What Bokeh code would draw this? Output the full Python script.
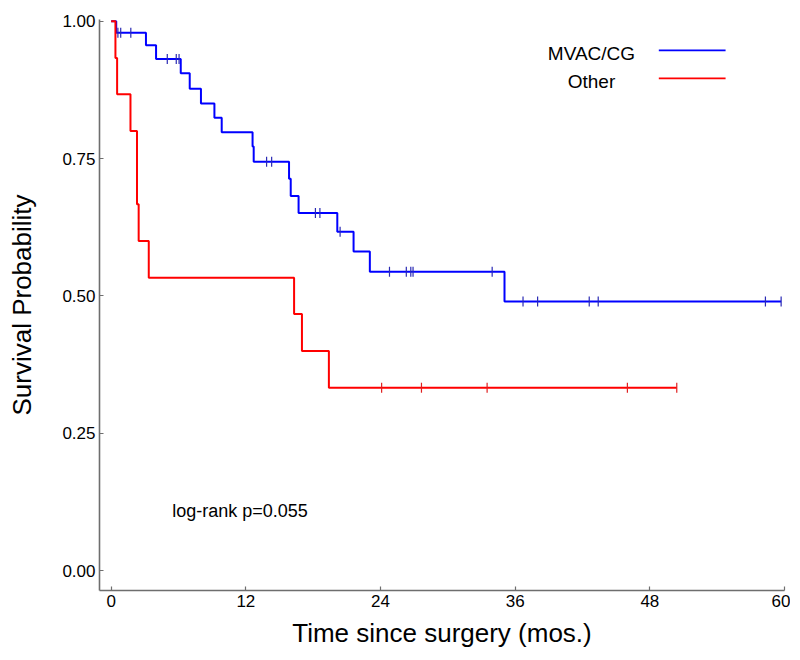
import numpy as np
from bokeh.plotting import figure
from bokeh.models import Range1d, FixedTicker, PrintfTickFormatter, Label
from bokeh.embed import file_html
from bokeh.resources import INLINE

# ---- data ----
blue_event_times = [0.45, 3.1, 4.0, 6.2, 7.0, 8.0, 9.2, 9.85, 12.6, 12.7,
                    15.85, 16.0, 16.7, 20.15, 21.6, 23.05, 35.05]
blue_surv = [0.979, 0.956, 0.931, 0.905, 0.877, 0.850, 0.824, 0.798, 0.772,
             0.744, 0.713, 0.682, 0.651, 0.617, 0.581, 0.544, 0.490]
blue_censor_times = [0.6, 0.85, 1.75, 5.0, 5.8, 6.05, 13.85, 14.3, 18.2, 18.6,
                     20.4, 24.8, 26.3, 26.7, 26.9, 33.95, 36.7, 38.0, 42.6,
                     43.4, 58.3, 59.7]
blue_end = 59.7

red_event_times = [0.38, 0.53, 1.72, 2.3, 2.45, 3.35, 16.3, 17.0, 19.4]
red_surv = [0.933, 0.867, 0.800, 0.667, 0.600, 0.533, 0.467, 0.400, 0.333]
red_censor_times = [24.1, 27.65, 33.5, 46.0, 50.4]
red_end = 50.4

x_ticks = [0, 12, 24, 36, 48, 60]
y_ticks = [0.0, 0.25, 0.5, 0.75, 1.0]
group_labels = ["MVAC/CG", "Other"]
pvalue_text = "log-rank p=0.055"

BLUE = "#0000ff"
RED = "#ff0000"
FONT = "Liberation Sans"

p = figure(frame_width=685, frame_height=571,
           min_border_left=99, min_border_right=6,
           min_border_top=19, min_border_bottom=54,
           x_range=Range1d(-1.04, 60.0), y_range=Range1d(-0.036, 1.003),
           output_backend="svg", toolbar_location=None,
           background_fill_color="white", border_fill_color="white")
p.outline_line_color = None
p.xgrid.visible = False
p.ygrid.visible = False


def km_step(times, surv, end):
    xs = [0.0] + list(times) + [end]
    ys = [1.0] + list(surv) + [surv[-1]]
    return xs, ys


def censor_y(ctimes, times, surv):
    t = np.asarray(times)
    s = np.concatenate([[1.0], np.asarray(surv)])
    idx = np.searchsorted(t, np.asarray(ctimes), side="right")
    return s[idx]


for times, surv, end, ctimes, col, ccol in [
    (blue_event_times, blue_surv, blue_end, blue_censor_times, BLUE, "#2a2ab4"),
    (red_event_times, red_surv, red_end, red_censor_times, RED, "#e02020"),
]:
    xs, ys = km_step(times, surv, end)
    p.step(xs, ys, mode="after", line_color=col, line_width=2)
    cy = censor_y(ctimes, times, surv)
    p.scatter(ctimes, cy, marker="dash", angle=np.pi / 2, size=10,
              line_color=ccol, line_width=1.2)

# axes
for ax in (p.xaxis[0], p.yaxis[0]):
    ax.axis_line_color = "#6e6e6e"
    ax.axis_line_width = 1.6
    ax.major_tick_line_color = "#6e6e6e"
    ax.major_tick_line_width = 1.2
    ax.major_tick_in = 4
    ax.major_tick_out = 0
    ax.minor_tick_line_color = None
    ax.major_label_text_font = FONT
    ax.major_label_text_font_size = "17px"
    ax.major_label_text_color = "black"
    ax.axis_label_text_font = FONT
    ax.axis_label_text_font_size = "26px"
    ax.axis_label_text_font_style = "normal"
    ax.axis_label_text_color = "black"
    ax.major_label_standoff = 4

p.xaxis.ticker = FixedTicker(ticks=x_ticks)
p.yaxis.ticker = FixedTicker(ticks=y_ticks)
p.yaxis.formatter = PrintfTickFormatter(format="%.2f")
p.xaxis.axis_label = "Time since surgery (mos.)"
p.yaxis.axis_label = "Survival Probability"
p.xaxis.axis_label_standoff = 8
p.yaxis.axis_label_standoff = 22

# legend (label left of line)
leg_text_x = 42.8
leg_line_x0, leg_line_x1 = 48.8, 54.75
leg_rows = [(0.941, BLUE), (0.890, RED)]
for (yy, col), lab in zip(leg_rows, group_labels):
    p.add_layout(Label(x=leg_text_x, y=yy, text=lab, text_align="center",
                       text_baseline="middle", text_font=FONT,
                       text_font_size="19px", text_color="black"))
    p.segment(x0=[leg_line_x0], y0=[yy + 0.006], x1=[leg_line_x1], y1=[yy + 0.006],
              line_color=col, line_width=1.8)

p.add_layout(Label(x=5.44, y=0.109, text=pvalue_text, text_align="left",
                   text_baseline="middle", text_font=FONT,
                   text_font_size="18px", text_color="black"))

open("out.html", "w").write(file_html(p, INLINE))
